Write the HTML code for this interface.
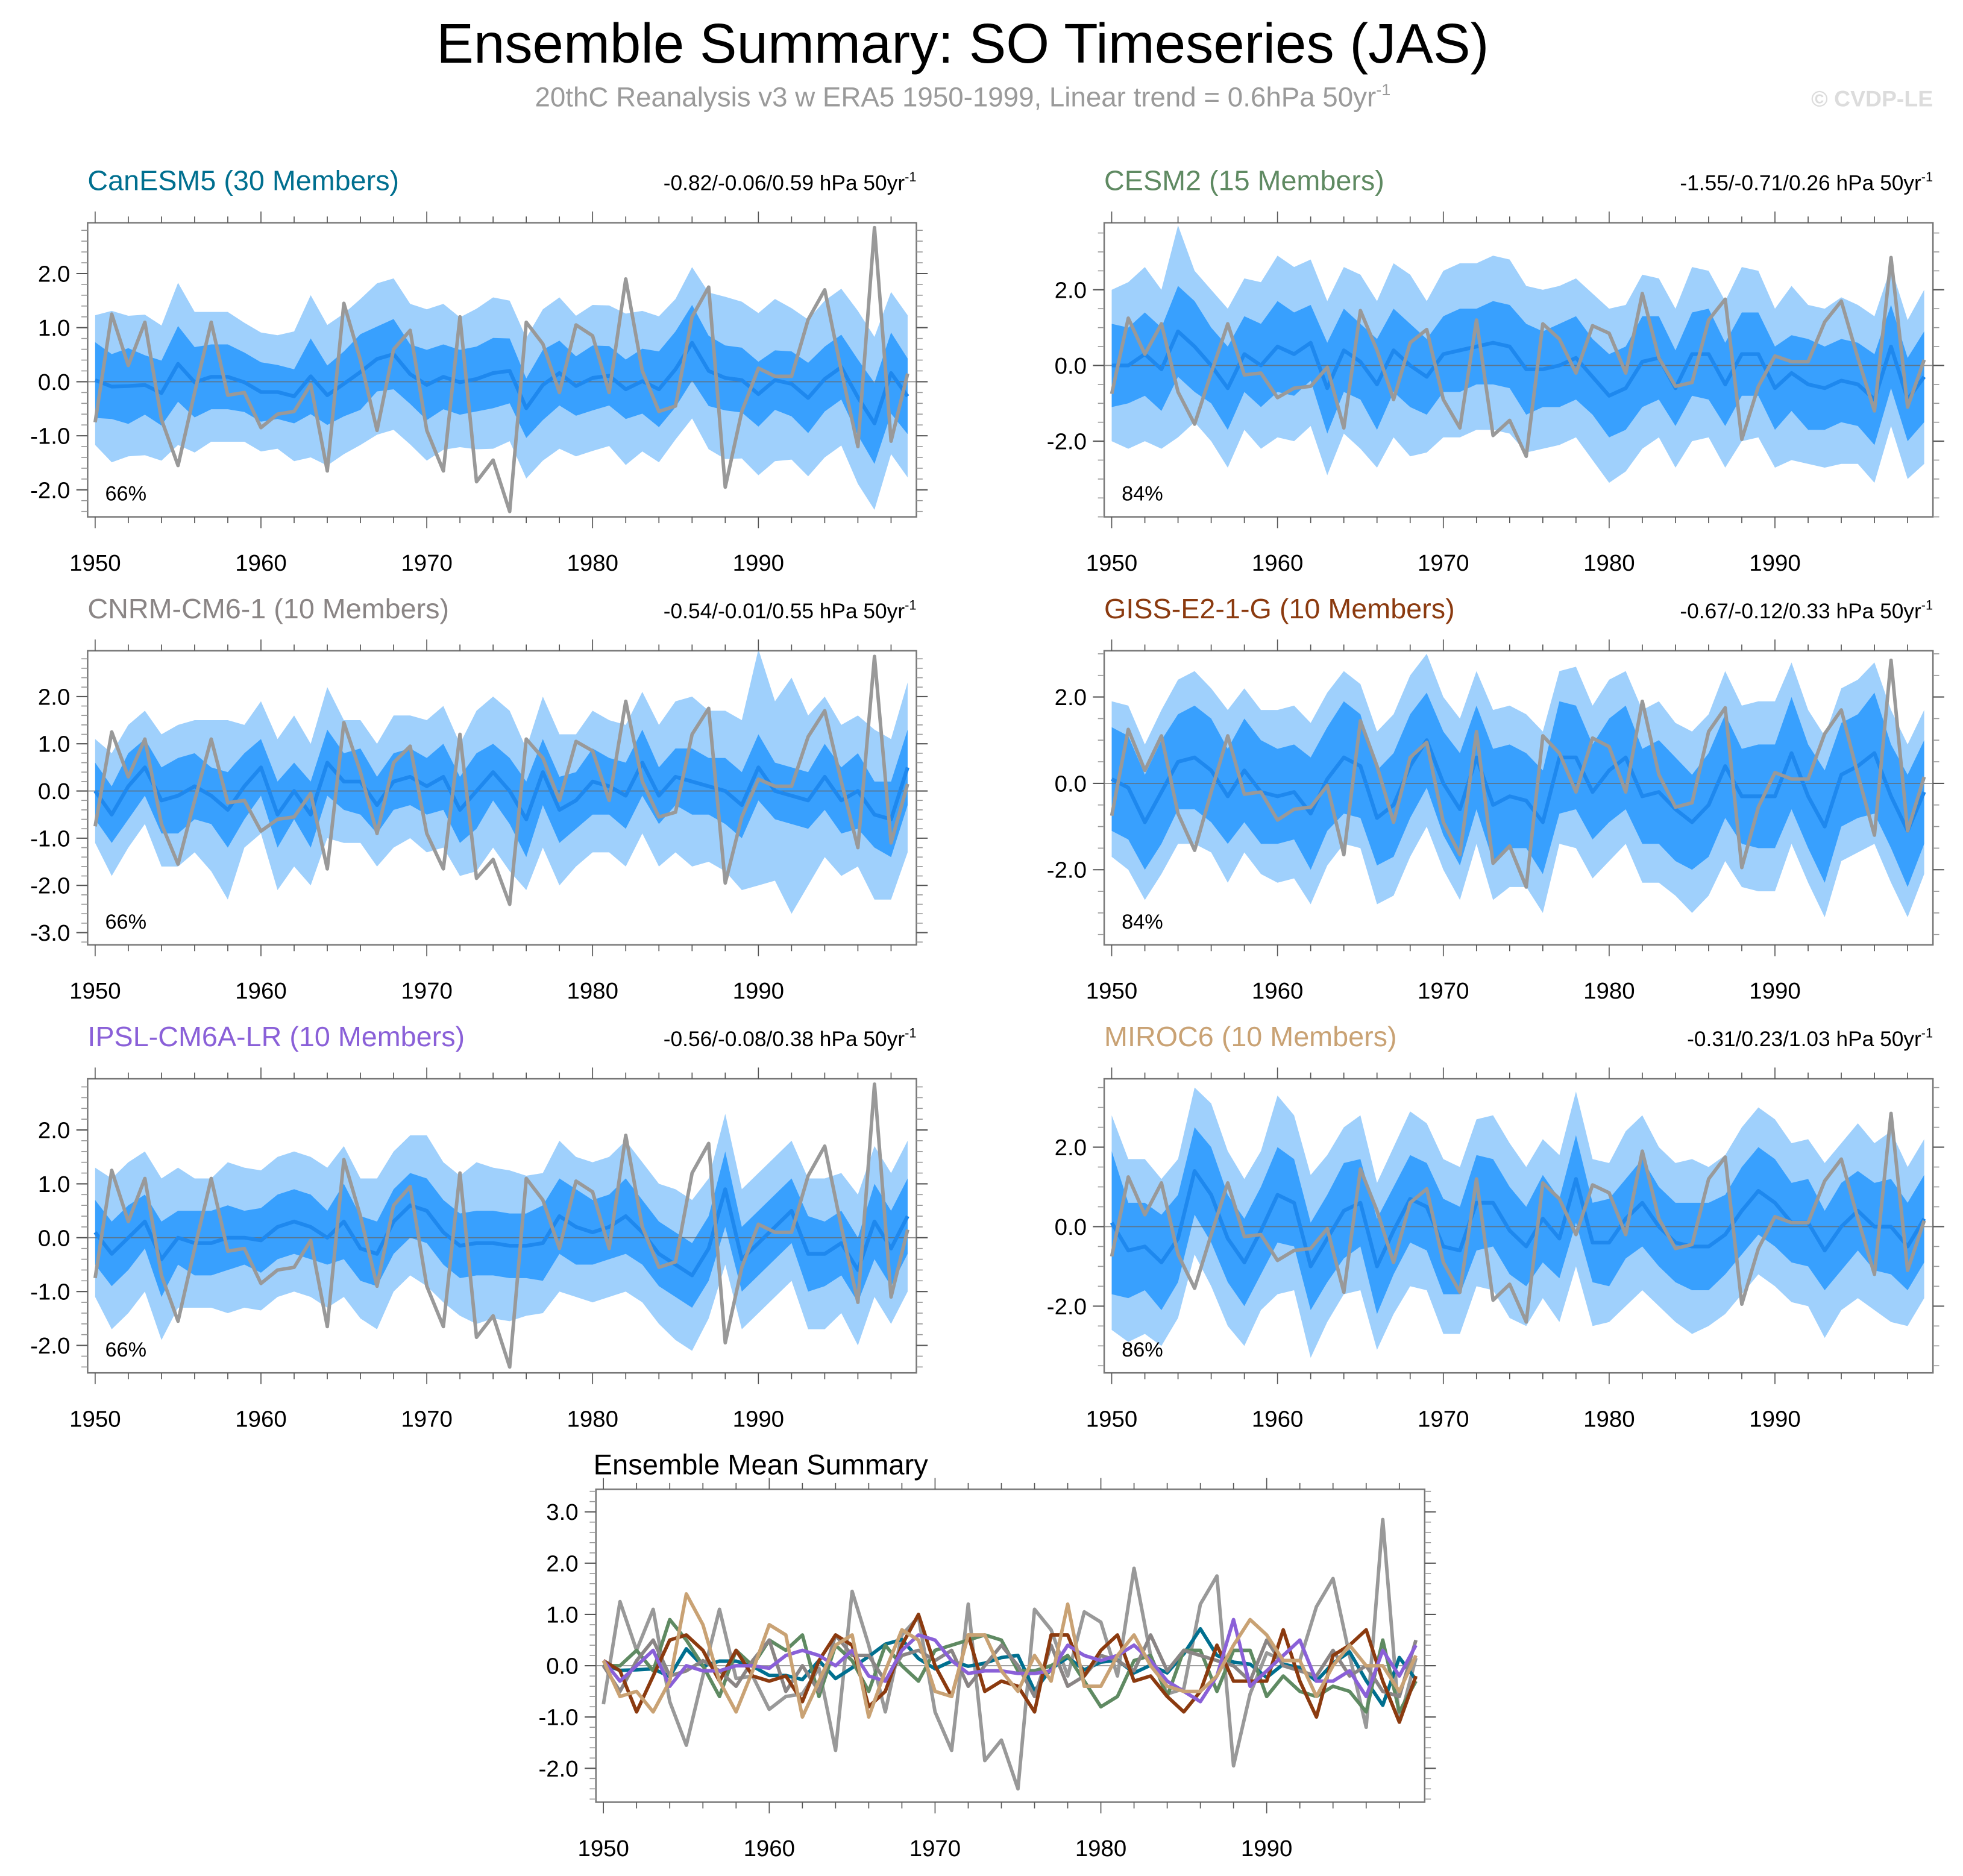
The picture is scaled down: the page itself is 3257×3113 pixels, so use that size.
<!DOCTYPE html>
<html><head><meta charset="utf-8">
<style>
html,body{margin:0;padding:0;background:#fff;}
svg{display:block;font-family:"Liberation Sans",sans-serif;}
</style></head>
<body>
<svg id="chart" width="3257" height="3113" viewBox="0 0 1568 1499" preserveAspectRatio="none" xmlns="http://www.w3.org/2000/svg">
<text x="769" y="50" text-anchor="middle" font-size="44.5" fill="#000">Ensemble Summary: SO Timeseries (JAS)</text>
<text x="769" y="85" text-anchor="middle" font-size="22" fill="#9a9a9a">20thC Reanalysis v3 w ERA5 1950-1999, Linear trend = 0.6hPa 50yr<tspan font-size="13" dy="-9">-1</tspan></text>
<text x="1544" y="85" text-anchor="end" font-size="18" font-weight="bold" fill="#dcdcdc">© CVDP-LE</text>
<g id="plots"></g>
</svg>
<script>
const years = Array.from({length:50},(_,i)=>1950+i);
const obs = [-0.75,1.25,0.3,1.1,-0.7,-1.55,-0.2,1.1,-0.25,-0.2,-0.85,-0.6,-0.55,-0.05,-1.65,1.45,0.4,-0.9,0.6,0.95,-0.9,-1.65,1.2,-1.85,-1.45,-2.4,1.1,0.7,-0.2,1.05,0.85,-0.2,1.9,0.2,-0.55,-0.45,1.2,1.75,-1.95,-0.55,0.25,0.1,0.1,1.15,1.7,0.2,-1.2,2.85,-1.1,0.15];

const meanCan = [0.03,-0.09,-0.08,-0.06,-0.21,0.33,-0.01,0.09,0.09,-0.01,-0.19,-0.19,-0.27,0.1,-0.25,-0.04,0.18,0.42,0.51,0.14,-0.06,0.09,-0.01,0.05,0.16,0.2,-0.49,-0.06,0.16,-0.08,0.07,0.11,-0.14,0.01,-0.14,0.23,0.72,0.2,0.07,0.03,-0.23,0.03,-0.04,-0.3,0.05,0.27,-0.29,-0.77,0.16,-0.27];
const innerCan = [0.7,0.6,0.7,0.55,0.6,0.7,0.65,0.6,0.6,0.55,0.55,0.5,0.5,0.7,0.55,0.6,0.7,0.6,0.65,0.55,0.65,0.6,0.6,0.6,0.65,0.6,0.55,0.65,0.6,0.55,0.6,0.55,0.55,0.6,0.7,0.7,0.7,0.65,0.6,0.6,0.6,0.55,0.6,0.65,0.6,0.6,0.7,0.75,0.75,0.7];
const outerCan = [1.2,1.4,1.3,1.3,1.25,1.5,1.3,1.2,1.2,1.1,1.1,1.05,1.2,1.5,1.3,1.3,1.35,1.4,1.4,1.3,1.4,1.35,1.2,1.3,1.4,1.3,1.3,1.4,1.4,1.3,1.35,1.3,1.4,1.3,1.35,1.3,1.4,1.45,1.5,1.45,1.5,1.5,1.4,1.45,1.45,1.45,1.6,1.6,1.5,1.5];

const meanCesm = [0.0,0.0,0.3,-0.1,0.9,0.5,0.0,-0.6,0.3,0.0,0.5,0.3,0.6,-0.6,0.4,0.1,-0.5,0.4,0.0,-0.3,0.3,0.4,0.5,0.6,0.5,-0.1,-0.1,0.0,0.2,-0.3,-0.8,-0.6,0.1,0.2,-0.6,0.3,0.3,-0.5,0.3,0.3,-0.6,-0.2,-0.5,-0.6,-0.4,-0.5,-0.9,0.5,-0.9,-0.3];
const innerCesm = [1.1,1.0,1.1,1.1,1.2,1.2,1.0,1.1,1.0,1.1,1.2,1.1,1.0,1.2,1.1,1.0,1.2,1.1,1.1,1.0,1.0,1.1,1.0,1.1,1.1,1.2,1.0,1.1,1.1,1.0,1.1,1.1,1.2,1.1,1.0,1.1,1.2,1.1,1.1,1.1,1.1,1.0,1.2,1.1,1.1,1.1,1.2,1.1,1.1,1.2];
const outerCesm = [2.0,2.2,2.3,2.1,2.8,2.0,2.0,2.1,2.0,2.2,2.4,2.3,2.2,2.3,2.2,2.3,2.2,2.3,2.4,2.0,2.2,2.3,2.2,2.3,2.3,2.2,2.1,2.1,2.1,2.2,2.3,2.2,2.3,2.1,2.1,2.3,2.2,2.2,2.3,2.2,2.1,2.3,2.1,2.1,2.2,2.1,2.2,2.1,2.1,2.3];

const meanCnrm = [0.0,-0.5,0.1,0.5,-0.2,-0.1,0.1,-0.1,-0.4,0.1,0.5,-0.5,0.0,-0.5,0.6,0.2,0.2,-0.3,0.2,0.3,0.1,0.3,-0.4,0.0,0.4,0.0,-0.6,0.4,-0.4,-0.2,0.2,0.1,-0.1,0.6,-0.1,0.3,0.2,0.1,0.0,-0.3,0.5,0.0,-0.1,-0.2,0.3,-0.2,0.0,-0.5,-0.6,0.5];
const innerCnrm = [0.6,0.6,0.7,0.6,0.7,0.8,0.7,0.6,0.8,0.7,0.6,0.7,0.6,0.7,0.7,0.6,0.7,0.6,0.6,0.6,0.6,0.7,0.7,0.8,0.6,0.7,0.8,0.7,0.7,0.6,0.7,0.6,0.7,0.7,0.6,0.6,0.7,0.6,0.7,0.7,0.7,0.6,0.6,0.6,0.7,0.7,0.8,0.7,0.8,0.8];
const outerCnrm = [1.1,1.3,1.3,1.2,1.4,1.5,1.4,1.6,1.9,1.3,1.4,1.6,1.6,1.5,1.6,1.3,1.3,1.3,1.4,1.3,1.4,1.5,1.4,1.7,1.6,1.7,1.5,1.6,1.6,1.4,1.5,1.4,1.5,1.5,1.5,1.6,1.8,1.6,1.7,1.8,2.5,1.9,2.5,1.8,1.7,1.6,1.6,1.8,1.7,1.8];

const meanGiss = [0.1,-0.1,-0.9,-0.2,0.5,0.6,0.3,-0.3,0.3,-0.2,-0.3,-0.2,-0.7,0.1,0.6,0.4,-0.8,-0.5,0.4,1.0,0.0,-0.6,0.6,-0.5,-0.3,-0.4,-0.9,0.6,0.6,-0.2,0.3,0.6,-0.3,-0.2,-0.6,-0.9,-0.5,0.4,-0.3,-0.3,-0.3,0.7,-0.3,-1.0,0.2,0.4,0.7,-0.3,-1.1,-0.2];
const innerGiss = [1.2,1.2,1.1,1.2,1.1,1.2,1.2,1.1,1.2,1.2,1.1,1.1,1.3,1.2,1.3,1.2,1.1,1.2,1.2,1.1,1.2,1.3,1.2,1.3,1.2,1.1,1.2,1.3,1.2,1.1,1.2,1.2,1.1,1.2,1.2,1.1,1.2,1.2,1.1,1.2,1.2,1.3,1.2,1.3,1.2,1.2,1.4,1.2,1.3,1.2];
const outerGiss = [1.8,1.9,1.8,1.9,1.9,2.0,1.9,2.0,1.9,1.9,2.0,2.0,2.1,2.0,2.0,1.9,2.0,2.1,2.1,2.0,2.0,2.1,2.0,2.2,2.1,2.0,2.1,2.0,2.1,2.0,2.1,2.0,2.0,2.1,2.0,2.1,2.1,2.2,2.1,2.2,2.2,2.1,2.0,2.1,2.0,2.0,2.1,2.0,2.0,1.9];

const meanIpsl = [0.1,-0.3,0.0,0.3,-0.4,0.0,-0.1,-0.1,0.0,0.0,-0.05,0.2,0.3,0.2,0.0,0.3,-0.2,-0.3,0.3,0.6,0.5,0.1,-0.15,-0.1,-0.1,-0.15,-0.15,-0.1,0.4,0.2,0.1,0.2,0.4,0.1,-0.3,-0.5,-0.7,-0.2,0.9,-0.4,-0.1,0.2,0.5,-0.3,-0.3,-0.1,-0.6,0.3,-0.2,0.4];
const innerIpsl = [0.6,0.6,0.6,0.5,0.7,0.5,0.6,0.6,0.6,0.5,0.6,0.6,0.6,0.6,0.5,0.7,0.6,0.6,0.6,0.6,0.6,0.6,0.6,0.6,0.6,0.6,0.6,0.7,0.7,0.7,0.6,0.6,0.7,0.6,0.6,0.6,0.6,0.6,0.7,0.6,0.6,0.6,0.6,0.7,0.6,0.6,0.6,0.7,0.7,0.7];
const outerIpsl = [1.2,1.4,1.4,1.3,1.5,1.3,1.2,1.2,1.4,1.3,1.3,1.3,1.3,1.3,1.3,1.4,1.3,1.4,1.3,1.3,1.4,1.3,1.3,1.5,1.4,1.4,1.3,1.3,1.4,1.3,1.3,1.3,1.4,1.3,1.3,1.4,1.4,1.3,1.4,1.3,1.3,1.3,1.3,1.4,1.4,1.3,1.4,1.4,1.4,1.4];

const meanMiroc = [0.1,-0.6,-0.5,-0.9,-0.3,1.4,0.8,-0.3,-0.9,-0.1,0.8,0.6,-1.0,-0.3,0.4,0.6,-1.0,-0.1,0.7,0.5,-0.5,-0.6,0.6,0.6,-0.1,-0.5,0.2,-0.3,1.2,-0.4,-0.4,0.2,0.6,0.0,-0.4,-0.5,-0.5,-0.2,0.4,0.9,0.6,0.1,0.1,-0.6,0.0,0.4,0.0,0.0,-0.5,0.2];
const innerMiroc = [1.8,1.2,1.1,1.2,1.1,1.1,1.2,1.1,1.1,1.1,1.2,1.1,1.1,1.1,1.2,1.1,1.2,1.1,1.1,1.1,1.2,1.1,1.2,1.1,1.1,1.0,1.1,1.0,1.1,1.0,1.1,1.0,1.1,1.0,1.0,1.1,1.1,1.0,1.1,1.1,1.1,1.0,1.1,1.0,1.1,1.0,1.1,1.2,1.1,1.1];
const outerMiroc = [2.7,2.3,2.2,2.1,2.0,2.1,2.3,2.2,2.1,2.0,2.5,2.2,2.3,2.1,2.1,2.2,2.1,2.1,2.2,2.1,2.2,2.1,2.1,2.2,2.2,2.0,2.0,2.1,2.2,2.1,2.0,2.2,2.2,2.0,2.0,2.2,2.0,2.0,2.1,2.1,2.1,2.0,2.1,2.2,2.1,2.2,2.1,2.4,2.0,2.0];

const panelNames = ["CanESM5 (30 Members)","CESM2 (15 Members)","CNRM-CM6-1 (10 Members)","GISS-E2-1-G (10 Members)","IPSL-CM6A-LR (10 Members)","MIROC6 (10 Members)"];
const panelColors = ["#006f8f","#5f8a62","#8a8585","#8b3a0f","#8a60d8","#c9a274"];
const trendLabels = ["-0.82/-0.06/0.59","-1.55/-0.71/0.26","-0.54/-0.01/0.55","-0.67/-0.12/0.33","-0.56/-0.08/0.38","-0.31/0.23/1.03"];
const pctLabels = ["66%","84%","66%","84%","66%","86%"];
const yTickSets = [[2,1,0,-1,-2],[2,0,-2],[2,1,0,-1,-2,-3],[2,0,-2],[2,1,0,-1,-2],[2,0,-2]];
const xTicks = [1950,1960,1970,1980,1990];
const bottomTicks = [3,2,1,0,-1,-2];

const means=[meanCan,meanCesm,meanCnrm,meanGiss,meanIpsl,meanMiroc];
const inners=[innerCan,innerCesm,innerCnrm,innerGiss,innerIpsl,innerMiroc];
const outers=[outerCan,outerCesm,outerCnrm,outerGiss,outerIpsl,outerMiroc];

const layouts=[
 {x0:70,x1:732,y0:178,y1:413,ymax:2.94,ymin:-2.5,minor:0.2},
 {x0:882,x1:1544,y0:178,y1:413,ymax:3.77,ymin:-4.0,minor:0.5},
 {x0:70,x1:732,y0:520,y1:755,ymax:2.97,ymin:-3.26,minor:0.2},
 {x0:882,x1:1544,y0:520,y1:755,ymax:3.07,ymin:-3.74,minor:0.5},
 {x0:70,x1:732,y0:862,y1:1097,ymax:2.95,ymin:-2.51,minor:0.2},
 {x0:882,x1:1544,y0:862,y1:1097,ymax:3.72,ymin:-3.68,minor:0.5}
];
const NS="http://www.w3.org/2000/svg";
const root=document.getElementById('plots');
function mk(tag,attrs,parent){const e=document.createElementNS(NS,tag);for(const k in attrs)e.setAttribute(k,attrs[k]);(parent||root).appendChild(e);return e;}

function axes(L){
  const sx=y=>L.x0+6+(y-1950)*(L.x1-L.x0-13)/49;
  const sy=v=>L.y0+(L.ymax-v)/(L.ymax-L.ymin)*(L.y1-L.y0);
  return {sx,sy};
}
function drawFrame(L,g,yticks,sx,sy){
  mk('rect',{x:L.x0,y:L.y0,width:L.x1-L.x0,height:L.y1-L.y0,fill:'none',stroke:'#777','stroke-width':1.2},g);
  for(let y=1950;y<=1998;y+=2){
    const maj=(y%10===0);const len=maj?9:5;
    mk('line',{x1:sx(y),x2:sx(y),y1:L.y1,y2:L.y1+len,stroke:'#555','stroke-width':0.8},g);
    mk('line',{x1:sx(y),x2:sx(y),y1:L.y0,y2:L.y0-len,stroke:'#555','stroke-width':0.8},g);
  }
  xTicks.forEach(t=>{
    const tx=mk('text',{x:sx(t),y:L.y1+43,'text-anchor':'middle','font-size':18.5,fill:'#000'},g);
    
    
    tx.textContent=t;
  });
  const start=Math.ceil(L.ymin/L.minor);
  for(let k=start;k*L.minor<=L.ymax+1e-9;k++){
    const v=k*L.minor;
    mk('line',{x1:L.x0-5,x2:L.x0,y1:sy(v),y2:sy(v),stroke:'#999','stroke-width':0.8},g);
    mk('line',{x1:L.x1,x2:L.x1+5,y1:sy(v),y2:sy(v),stroke:'#999','stroke-width':0.8},g);
  }
  yticks.forEach(v=>{
    mk('line',{x1:L.x0-9,x2:L.x0,y1:sy(v),y2:sy(v),stroke:'#555','stroke-width':1},g);
    mk('line',{x1:L.x1,x2:L.x1+9,y1:sy(v),y2:sy(v),stroke:'#555','stroke-width':1},g);
    const tx=mk('text',{x:L.x0-14,y:sy(v)+6.5,'text-anchor':'end','font-size':18.5,fill:'#000'},g);
    
    
    tx.textContent=v.toFixed(1);
  });
}
function pts(arr,sx,sy){return arr.map((v,i)=>sx(years[i]).toFixed(2)+','+sy(v).toFixed(2));}

layouts.forEach((L,p)=>{
  const g=mk('g',{});
  
  
  const {sx,sy}=axes(L);
  const m=means[p],inn=inners[p],out=outers[p];
  const up2=m.map((v,i)=>v+out[i]),lo2=m.map((v,i)=>v-out[i]);
  const up1=m.map((v,i)=>v+inn[i]),lo1=m.map((v,i)=>v-inn[i]);
  const outerBand=mk('polygon',{points:pts(up2,sx,sy).concat(pts(lo2,sx,sy).reverse()).join(' '),fill:'#9fd0fc'},g);
  
  
  const innerBand=mk('polygon',{points:pts(up1,sx,sy).concat(pts(lo1,sx,sy).reverse()).join(' '),fill:'#38a0fe'},g);
  
  
  mk('line',{x1:L.x0,x2:L.x1,y1:sy(0),y2:sy(0),stroke:'#666','stroke-width':0.9,'stroke-opacity':0.7},g);
  const ml=mk('polyline',{points:pts(m,sx,sy).join(' '),fill:'none',stroke:'#1e88ee','stroke-width':3,'stroke-linejoin':'round'},g);
  
  
  const ol=mk('polyline',{points:pts(obs,sx,sy).join(' '),fill:'none',stroke:'#999','stroke-width':2.8,'stroke-linejoin':'round'},g);
  
  
  drawFrame(L,g,yTickSets[p],sx,sy);
  const t=mk('text',{x:L.x0,y:L.y0-26,'font-size':22.5,fill:panelColors[p]},g);
  
  
  t.textContent=panelNames[p];
  const tr=mk('text',{x:L.x1,y:L.y0-26,'text-anchor':'end','font-size':17,fill:'#000'},g);
  
  
  tr.innerHTML=trendLabels[p]+' hPa 50yr<tspan font-size="10.5" dy="-7">-1</tspan>';
  const pc=mk('text',{x:L.x0+14,y:L.y1-13,'font-size':16.5,fill:'#000'},g);
  
  
  pc.textContent=pctLabels[p];
});

(function(){
  const L={x0:476,x1:1138,y0:1190,y1:1440,ymax:3.44,ymin:-2.66,minor:0.2};
  const g=mk('g',{});
  
  
  const {sx,sy}=axes(L);
  mk('line',{x1:L.x0,x2:L.x1,y1:sy(0),y2:sy(0),stroke:'#666','stroke-width':0.9,'stroke-opacity':0.7},g);
  const ol=mk('polyline',{points:pts(obs,sx,sy).join(' '),fill:'none',stroke:'#999','stroke-width':2.8,'stroke-linejoin':'round'},g);
  
  
  means.forEach((m,p)=>{
    const l=mk('polyline',{points:pts(m,sx,sy).join(' '),fill:'none',stroke:panelColors[p],'stroke-width':2.8,'stroke-linejoin':'round'},g);
    
    
  });
  drawFrame(L,g,bottomTicks,sx,sy);
  const t=mk('text',{x:474,y:1178,'font-size':22.7,fill:'#000'},g);
  
  
  t.textContent='Ensemble Mean Summary';
})();
</script>
</body></html>
